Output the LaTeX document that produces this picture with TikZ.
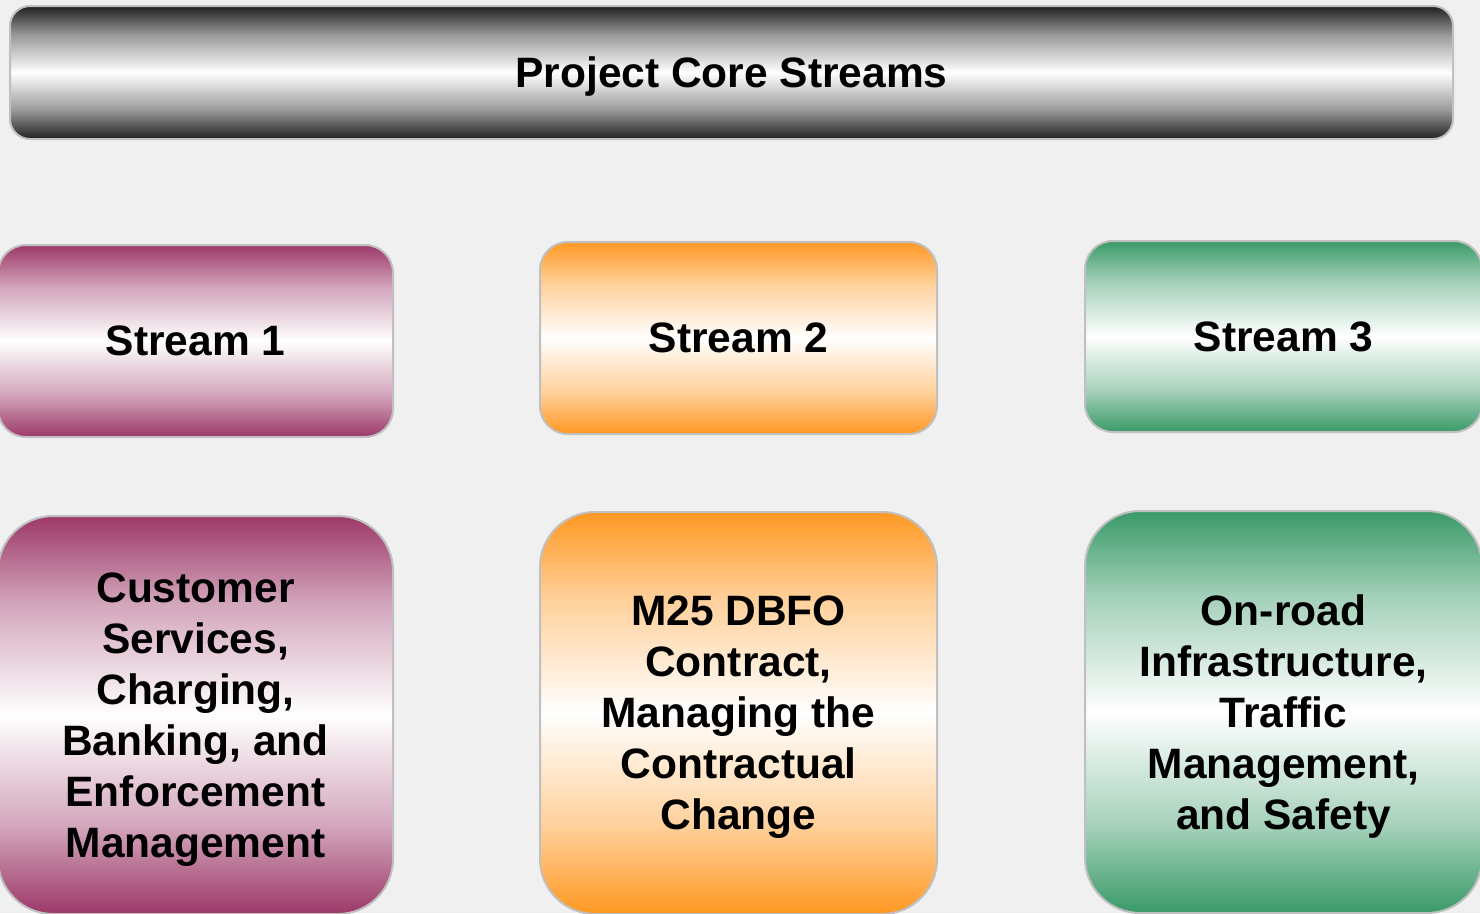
\documentclass[tikz,border=0pt]{standalone}
\usepackage{fontspec}
\setmainfont{Liberation Sans}
\definecolor{bgcol}{RGB}{240,240,240}
\definecolor{bordercol}{RGB}{192,192,192}
\definecolor{cTitle}{RGB}{32,32,32}
\definecolor{cPurple}{RGB}{156,56,104}
\definecolor{cOrange}{RGB}{255,152,34}
\definecolor{cGreen}{RGB}{58,154,104}
\colorlet{cTitleMid}{cTitle!45!white}
\colorlet{cPurpleMid}{cPurple!45!white}
\colorlet{cOrangeMid}{cOrange!45!white}
\colorlet{cGreenMid}{cGreen!45!white}
\pgfdeclareverticalshading{shTitle}{100bp}{color(0bp)=(cTitle); color(25bp)=(cTitle); color(36bp)=(cTitleMid); color(50bp)=(white); color(64bp)=(cTitleMid); color(75bp)=(cTitle); color(100bp)=(cTitle)}
\pgfdeclareverticalshading{shPurple}{100bp}{color(0bp)=(cPurple); color(25bp)=(cPurple); color(36bp)=(cPurpleMid); color(50bp)=(white); color(64bp)=(cPurpleMid); color(75bp)=(cPurple); color(100bp)=(cPurple)}
\pgfdeclareverticalshading{shOrange}{100bp}{color(0bp)=(cOrange); color(25bp)=(cOrange); color(36bp)=(cOrangeMid); color(50bp)=(white); color(64bp)=(cOrangeMid); color(75bp)=(cOrange); color(100bp)=(cOrange)}
\pgfdeclareverticalshading{shGreen}{100bp}{color(0bp)=(cGreen); color(25bp)=(cGreen); color(36bp)=(cGreenMid); color(50bp)=(white); color(64bp)=(cGreenMid); color(75bp)=(cGreen); color(100bp)=(cGreen)}
\tikzset{
  boxbase/.style={draw=bordercol, line width=2pt, inner sep=0pt, align=center,
    text=black, text depth=0pt, font=\fontsize{42.5pt}{51pt}\selectfont\bfseries},
  titlebox/.style={boxbase, rounded corners=20pt, shading=shTitle},
  streambox/.style={boxbase, rounded corners=28pt},
  detailbox/.style={boxbase, rounded corners=55pt},
}
\begin{document}
\begin{tikzpicture}[x=1pt,y=-1pt]
\useasboundingbox (0,0) rectangle (1480,913);
\fill[bgcol] (0,0) rectangle (1480,913);
\clip (0,0) rectangle (1480,913);
\node[titlebox, minimum width=1443pt, minimum height=133pt] (title) at (731.5,72.5) {Project Core Streams};
\node[streambox, shading=shPurple, minimum width=395pt, minimum height=192pt] (s1) at (195.5,341) {Stream 1};
\node[streambox, shading=shOrange, minimum width=397pt, minimum height=192pt] (s2) at (738.5,338) {Stream 2};
\node[streambox, shading=shGreen, minimum width=397pt, minimum height=191pt] (s3) at (1283.5,336.5) {Stream 3};
\node[detailbox, shading=shPurple, minimum width=395pt, minimum height=398pt] (d1) at (195.5,715) {Customer\\Services,\\Charging,\\Banking, and\\Enforcement\\Management};
\node[detailbox, shading=shOrange, minimum width=397pt, minimum height=402pt] (d2) at (738.5,713) {M25 DBFO\\Contract,\\Managing the\\Contractual\\Change};
\node[detailbox, shading=shGreen, minimum width=397pt, minimum height=402pt] (d3) at (1283.5,712) {On-road\\Infrastructure,\\Traffic\\Management,\\and Safety};
\end{tikzpicture}
\end{document}
